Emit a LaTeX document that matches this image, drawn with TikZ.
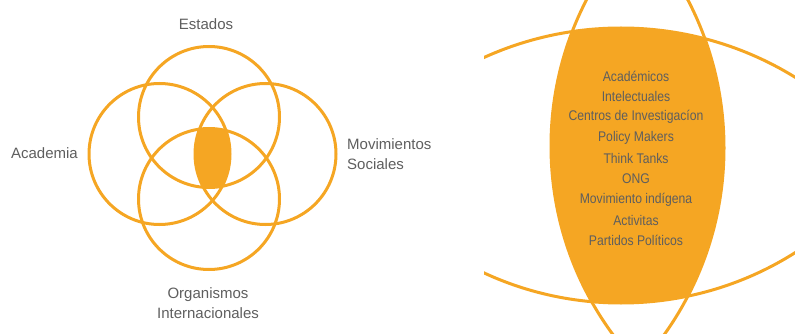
\documentclass[tikz,border=0pt]{standalone}
\usepackage{fontspec}
\setmainfont{Liberation Sans}
\newfontfamily\condfont[FakeStretch=0.87]{Liberation Sans}
\definecolor{venn}{HTML}{F5A623}
\definecolor{label}{HTML}{5E5E5E}

\begin{document}
\begin{tikzpicture}
  [x=1pt,y=-1pt,every node/.style={text=label,inner sep=0pt,font=\fontsize{15}{20}\selectfont},
   ring/.style={draw=venn,line width=3pt},
   item/.style={font=\condfont\fontsize{14}{16}\selectfont}]
  \useasboundingbox (0,0) rectangle (795,334);

  % small diagram
  \coordinate (cT) at (209,117);
  \coordinate (cB) at (209,199);
  \coordinate (cL) at (159.5,154);
  \coordinate (cR) at (265.5,154);

  \begin{scope}
    \clip (cT) circle (70.5pt);
    \clip (cB) circle (70.5pt);
    \clip (cL) circle (70.5pt);
    \clip (cR) circle (70.5pt);
    \fill[venn] (0,0) rectangle (420,334);
  \end{scope}
  \foreach \c in {cT,cB,cL,cR}
    \draw[ring] (\c) circle (70.5pt);

  \node (estados) at (206,24) {Estados};
  \node[anchor=east] (academia) at (78,153) {Academia};
  \node[anchor=west,align=left] (movimientos) at (347,154) {Movimientos\\Sociales};
  \node[align=center] (organismos) at (208,303) {Organismos\\Internacionales};

  % zoomed centre
  \coordinate (zL) at (869,146);
  \coordinate (zR) at (403,148);
  \coordinate (zB) at (621,360);
  \coordinate (zT) at (621,-23);

  \begin{scope}
    \clip (484,0) rectangle (795,334);
    \begin{scope}
      \clip (zL) circle (318pt);
      \clip (zR) circle (321pt);
      \clip (zB) circle (332pt);
      \clip (zT) circle (326pt);
      \fill[venn] (484,0) rectangle (795,334);
    \end{scope}
    \draw[ring] (zL) circle (318pt);
    \draw[ring] (zR) circle (321pt);
    \draw[ring] (zB) circle (332pt);
    \draw[ring] (zT) circle (326pt);
  \end{scope}

  \foreach \name [count=\i] in {Académicos,Intelectuales,Centros de Investigacíon,
      Policy Makers,Think Tanks,ONG,Movimiento indígena,Activitas,Partidos Políticos}
    \node[item] (item\i) at (636,55.4+20.6*\i) {\name};

\end{tikzpicture}
\end{document}
